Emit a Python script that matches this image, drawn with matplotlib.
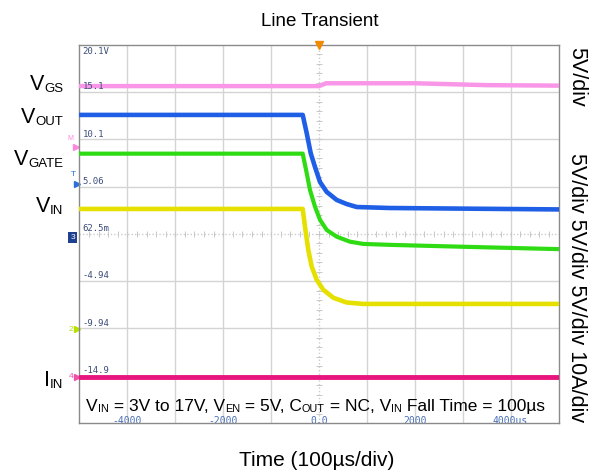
import numpy as np
import matplotlib
matplotlib.use("Agg")
import matplotlib.pyplot as plt

plt.rcParams['font.family'] = ['Liberation Sans', 'DejaVu Sans']

# scope traces, time and level in divisions (center of screen = 0)
t_vgs = [-5, 0.0, 0.15, 2.0, 3.5, 5]
vgs = [3.13, 3.13, 3.19, 3.19, 3.15, 3.14]

t_vout = [-5, -0.34, -0.257, -0.173, -0.084, 0.021, 0.161, 0.37, 0.578, 0.787, 1.48, 5]
vout = [2.52, 2.52, 2.135, 1.71, 1.42, 1.10, 0.89, 0.72, 0.634, 0.571, 0.55, 0.52]

t_vgate = [-5, -0.34, -0.257, -0.188, -0.084, 0.021, 0.161, 0.37, 0.647, 0.925, 1.48, 3.0, 5]
vgate = [1.70, 1.70, 1.29, 0.93, 0.58, 0.30, 0.085, -0.057, -0.163, -0.21, -0.23, -0.27, -0.32]

t_vin = [-5, -0.34, -0.292, -0.223, -0.152, -0.048, 0.09, 0.30, 0.578, 0.925, 1.48, 5]
vin = [0.53, 0.53, 0.154, -0.34, -0.69, -0.97, -1.18, -1.35, -1.45, -1.48, -1.48, -1.48]

t_iin = [-5, 5]
iin = [-3.02, -3.02]

scale_lbl = ['20.1V', '15.1', '10.1', '5.06', '62.5m', '-4.94', '-9.94', '-14.9']
scale_pos = [4, 3, 2, 1, 0, -1, -2, -3]
time_lbl = ['-4000', '-2000', '0.0', '2000', '4000us']
time_pos = [-4, -2, 0, 2, 4]

fig = plt.figure(figsize=(5.99, 4.73), dpi=100)
ax = fig.add_axes([0.1327, 0.1057, 0.7997, 0.7992])
ax.set_xlim(-5, 5)
ax.set_ylim(-4, 4)
ax.set_xticks([])
ax.set_yticks([])
for s in ax.spines.values():
    s.set_color('#8a8a8a')
    s.set_linewidth(1.0)

# graticule
for g in [-4, -3, -2, -1, 1, 2, 3, 4]:
    ax.axvline(g, color='#d4d4d4', lw=1.0, zorder=1)
for g in [-3, -2, -1, 1, 2, 3]:
    ax.axhline(g, color='#d4d4d4', lw=1.0, zorder=1)
ax.axvline(0, color='#cccccc', lw=1.0, ls=(0, (1, 1.5)), zorder=1)
ax.axhline(0, color='#cccccc', lw=1.0, ls=(0, (1, 1.5)), zorder=1)
mt = np.arange(-5, 5.01, 0.2)
ax.plot(mt, np.zeros_like(mt), ls='none', marker='|', ms=4, mew=0.7, color='#c8c8c8', zorder=1)
mt = np.arange(-4, 4.01, 0.2)
ax.plot(np.zeros_like(mt), mt, ls='none', marker='_', ms=4, mew=0.7, color='#c8c8c8', zorder=1)

# traces
ax.plot(t_vgs, vgs, color='#fa96e8', lw=3.2, zorder=3)
ax.plot(t_vout, vout, color='#1f5fe6', lw=3.3, zorder=3)
ax.plot(t_vgate, vgate, color='#2fdc14', lw=3.0, zorder=3)
ax.plot(t_vin, vin, color='#e6e000', lw=3.3, zorder=3)
ax.plot(t_iin, iin, color='#e8157c', lw=3.5, zorder=3)

# scope readouts
for lbl, p in zip(scale_lbl, scale_pos):
    ax.text(0.006, p - 0.04 if p == 4 else p + 0.02, lbl, transform=ax.get_yaxis_transform(),
            fontsize=6.5, family='DejaVu Sans Mono', color='#3c4d7a',
            va='top' if p == 4 else 'bottom', ha='left', zorder=4)
for lbl, p in zip(time_lbl, time_pos):
    ax.text(p, -3.85, lbl, fontsize=7, family='DejaVu Sans Mono', color='#4a6fb5',
            ha='center', va='top', clip_on=True, zorder=4)

# channel markers
ax.plot([0], [4], marker='v', ms=6, color='#f08a00', clip_on=False, zorder=5)
tr = ax.get_yaxis_transform()
ax.text(-0.02, 2.02, 'M', transform=tr, fontsize=5, color='#ff88dd', ha='center', va='center')
ax.plot([-0.008], [1.85], marker='>', ms=4, color='#ff88dd', transform=tr, clip_on=False)
ax.text(-0.012, 1.25, 'T', transform=tr, fontsize=6, color='#2a6fdb', ha='center', va='center')
ax.plot([-0.006], [1.05], marker='>', ms=4, color='#2a6fdb', transform=tr, clip_on=False)
ax.text(-0.014, -0.08, '3', transform=tr, fontsize=6, color='white', ha='center', va='center',
        bbox=dict(boxstyle='square,pad=0.25', fc='#1f3f8f', ec='none'))
ax.text(-0.018, -2.02, '2', transform=tr, fontsize=6, color='#b8e000', ha='center', va='center')
ax.plot([-0.006], [-2.02], marker='>', ms=4, color='#b8e000', transform=tr, clip_on=False)
ax.text(-0.018, -3.02, '4', transform=tr, fontsize=6, color='#f050a8', ha='center', va='center')
ax.plot([-0.006], [-3.02], marker='>', ms=4, color='#f050a8', transform=tr, clip_on=False)


def sub_label(main, sub, y):
    s = ax.text(-0.034, y, sub, transform=tr, fontsize=9.5, ha='right', va='baseline')
    ax.annotate(main, xy=(0, 0), xycoords=s, fontsize=15.5, ha='right', va='bottom')


sub_label('V', 'GS', 3.0)
sub_label('V', 'OUT', 2.31)
sub_label('V', 'GATE', 1.42)
sub_label('V', 'IN', 0.42)
sub_label('I', 'IN', -3.25)

# condition note, pieces alternate normal text / subscript
note = [('V', 12.5), ('IN', 7.8), (' = 3V to 17V, V', 12.5), ('EN', 7.8), (' = 5V, C', 12.5),
        ('OUT', 7.8), (' = NC, V', 12.5), ('IN', 7.8), (' Fall Time = 100\u00b5s', 12.5)]
first = ax.text(0.0136, -3.75, note[0][0], fontsize=note[0][1], transform=tr,
                ha='left', va='baseline', zorder=6)
prev = first
for txt, fs in note[1:]:
    prev = ax.annotate(txt, xy=(1, 0), xycoords=(prev, first), fontsize=fs,
                       ha='left', va='bottom', zorder=6)

ax.text(1.0376, 3.32, '5V/div', transform=tr, fontsize=15.5, rotation=270,
        ha='center', va='center')
ax.text(1.0376, -1.13, '5V/div 5V/div 5V/div 10A/div', transform=tr, fontsize=15.5,
        rotation=270, ha='center', va='center')

fig.text(0.533, 0.945, 'Line Transient', fontsize=13.5, ha='center', va='baseline')
fig.text(0.528, 0.015, 'Time (100\u00b5s/div)', fontsize=15, ha='center', va='baseline')

fig.savefig('out.png', dpi=100)
